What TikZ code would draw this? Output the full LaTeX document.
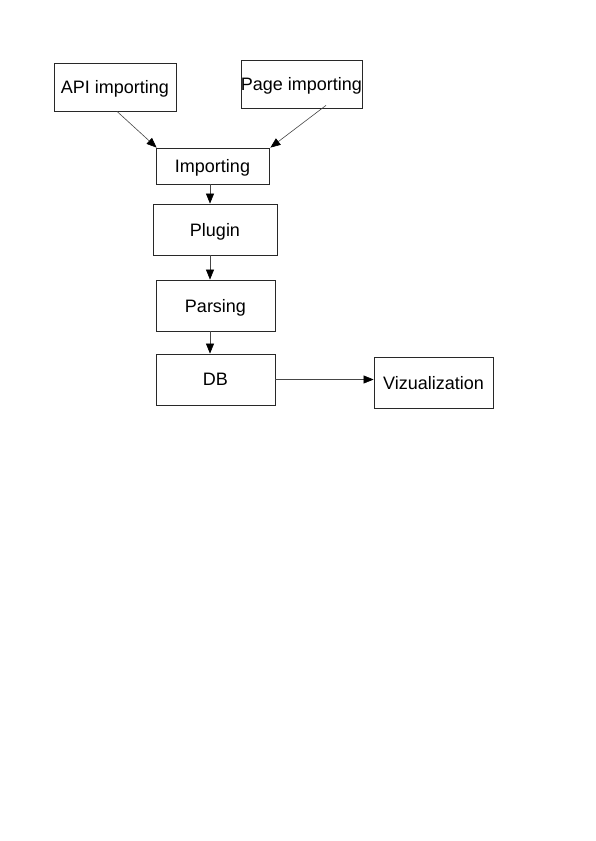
\documentclass[tikz,border=0pt]{standalone}
\usepackage{fontspec}
\setmainfont{Liberation Sans}
\usepackage{xcolor}
\usepackage{tikz}
\usetikzlibrary{arrows.meta,positioning,calc}
\definecolor{boxline}{RGB}{40,40,40}
\definecolor{flowline}{RGB}{70,70,70}
\tikzset{
  stagebox/.style={rectangle, draw=boxline, line width=0.8pt, fill=white, inner sep=0pt, text depth=0pt, font=\fontsize{18}{21}\selectfont},
  flow/.style={flowline, line width=0.6pt, -{Triangle[length=10pt,width=8pt,black]}}
}
\begin{document}
\begin{tikzpicture}[x=1pt,y=-1pt]
  \useasboundingbox (0,0) rectangle (595,841);
  % sources
  \node[stagebox, minimum width=122pt, minimum height=48pt] (api) at (115,87) {API importing};
  \node[stagebox, minimum width=121pt, minimum height=48pt] (page) at (301.5,84) {Page importing};
  % pipeline
  \node[stagebox, minimum width=113pt, minimum height=36pt] (imp) at (212.5,166) {Importing};
  \node[stagebox, minimum width=124pt, minimum height=51pt] (plugin) at (215,229.5) {Plugin};
  \node[stagebox, minimum width=119pt, minimum height=51pt] (parsing) at (215.5,305.5) {Parsing};
  \node[stagebox, minimum width=119pt, minimum height=51pt] (db) at (215.5,379.5) {DB};
  \node[stagebox, minimum width=119pt, minimum height=51pt] (viz) at (433.5,382.5) {Vizualization};

  \draw[flow] ([xshift=2pt]api.south) -- ([xshift=1pt]imp.north west);
  \draw[flow] ([xshift=24.5pt,yshift=3pt]page.south) -- ([xshift=1pt]imp.north east);
  \draw[flow] ([xshift=-2.5pt]imp.south) -- ([xshift=-2.5pt]imp.south |- plugin.north);
  \draw[flow] ([xshift=-5pt]plugin.south) -- ([xshift=-5pt]plugin.south |- parsing.north);
  \draw[flow] ([xshift=-5.5pt]parsing.south) -- ([xshift=-5.5pt]parsing.south |- db.north);
  \draw[flow] (db.east) -- (db.east -| viz.west);
\end{tikzpicture}
\end{document}
